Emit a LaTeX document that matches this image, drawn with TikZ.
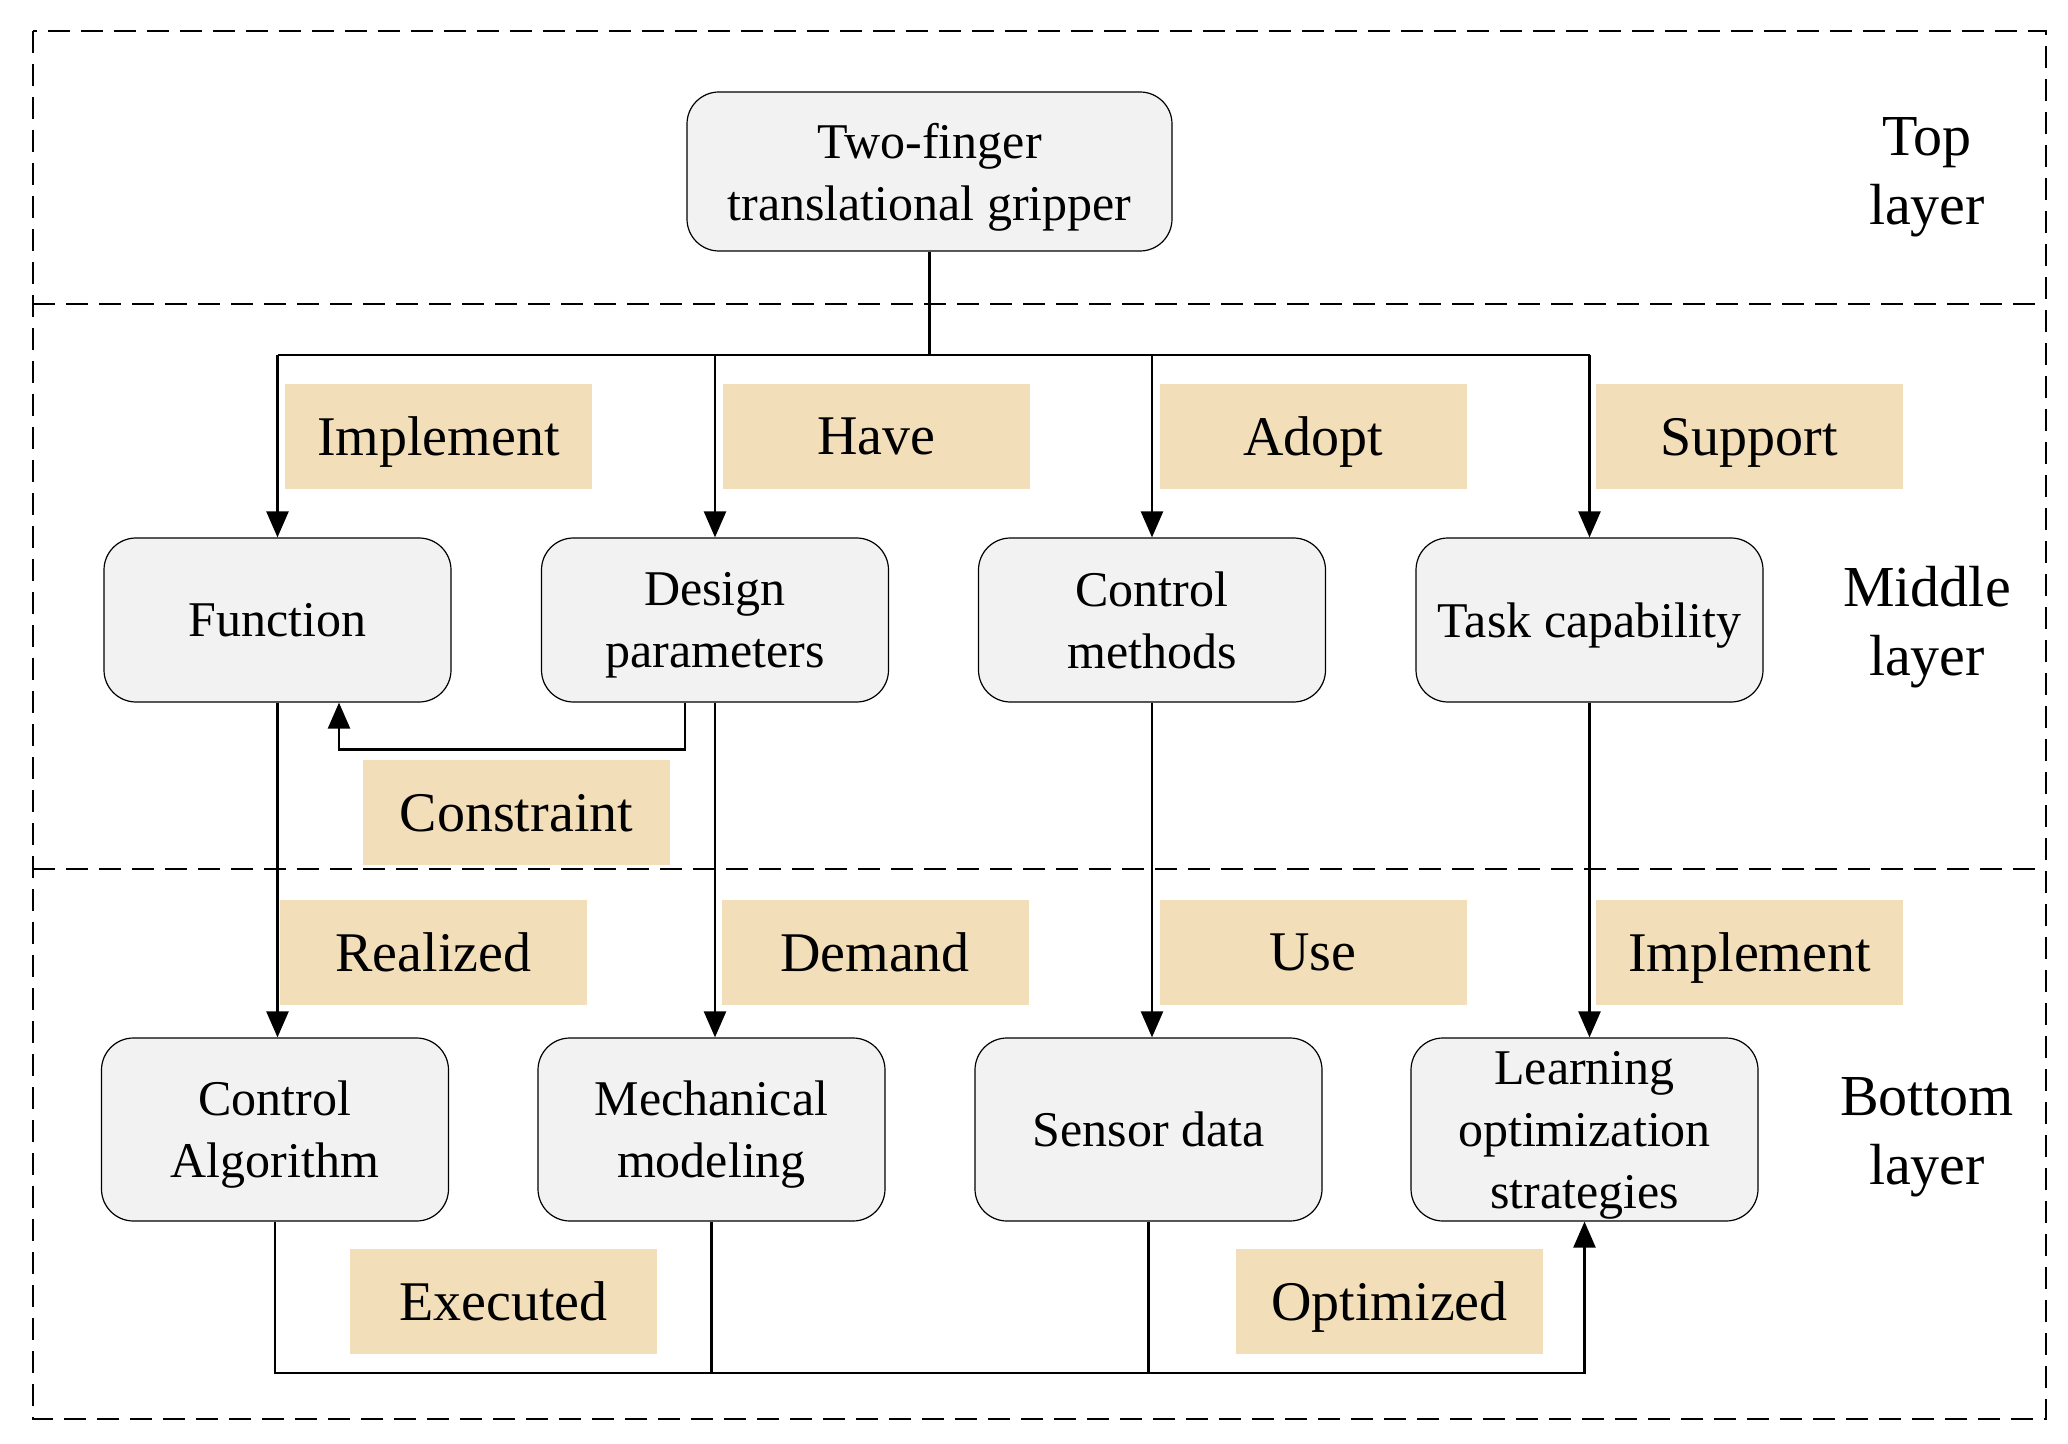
\documentclass[tikz,border=0pt]{standalone}
\usepackage{fontspec}
\setmainfont{Liberation Serif}
\usetikzlibrary{arrows.meta,calc}
\definecolor{boxgray}{RGB}{242,242,242}
\definecolor{tan}{RGB}{242,223,185}
\tikzset{
  blk/.style={draw=black, line width=0.6pt, fill=boxgray, rounded corners=16pt,
    minimum width=173.5pt, minimum height=82pt, align=center, inner sep=2pt,
    text depth=0pt, font=\fontsize{25pt}{31pt}\selectfont},
  lbl/.style={fill=tan, minimum width=153.5pt, minimum height=52.5pt, inner sep=0pt,
    text depth=0pt, font=\fontsize{28pt}{34pt}\selectfont},
  lay/.style={align=center, text depth=0pt, font=\fontsize{29pt}{34.5pt}\selectfont},
  ln/.style={line width=1.2pt},
  arr/.style={line width=1.2pt, -{Triangle[length=13pt,width=11pt]}},
  sep/.style={line width=0.9pt, dash pattern=on 11pt off 5.5pt},
}
\begin{document}
\begin{tikzpicture}[x=0.5pt,y=-0.5pt]
\useasboundingbox (0,0) rectangle (2068,1444);
% layer frames
\draw[sep] (33,31) rectangle (2046,1419);
\draw[sep] (33,304) -- (2046,304);
\draw[sep] (33,869) -- (2046,869);
% nodes
\node[blk, minimum width=242.5pt, minimum height=79.5pt] (top) at (929.5,171.5) {Two-finger\\translational gripper};
\node[blk] (fun) at (277.5,620) {Function};
\node[blk] (des) at (715,620) {Design\\parameters};
\node[blk] (ctl) at (1152,620) {Control\\methods};
\node[blk] (tas) at (1589.5,620) {Task capability};
\node[blk, minimum height=91.5pt] (alg) at (275,1129.5) {Control\\Algorithm};
\node[blk, minimum height=91.5pt] (mec) at (711.5,1129.5) {Mechanical\\modeling};
\node[blk, minimum height=91.5pt] (sen) at (1148.5,1129.5) {Sensor data};
\node[blk, minimum height=91.5pt] (lrn) at (1584.5,1129.5) {Learning\\optimization\\strategies};
% labels
\node[lbl] (l1) at (438.5,436.5) {Implement};
\node[lbl] (l2) at (876.5,436.5) {Have};
\node[lbl] (l3) at (1313,436.5) {Adopt};
\node[lbl] (l4) at (1749.5,436.5) {Support};
\node[lbl] (l5) at (516.5,812.5) {Constraint};
\node[lbl] (l6) at (433.5,952.5) {Realized};
\node[lbl] (l7) at (875,952.5) {Demand};
\node[lbl] (l8) at (1313,952.5) {Use};
\node[lbl] (l9) at (1749.5,952.5) {Implement};
\node[lbl] (l10) at (503.5,1301.5) {Executed};
\node[lbl] (l11) at (1389.5,1301.5) {Optimized};
% layer names
\node[lay] (ly1) at (1927,171) {Top\\layer};
\node[lay] (ly2) at (1927,621) {Middle\\layer};
\node[lay] (ly3) at (1927,1131) {Bottom\\layer};
% top bus
\coordinate (bus) at (929.5,355);
\draw[ln] (top.south) -- (bus);
\draw[ln] (bus -| fun.north) -- (bus -| tas.north);
\draw[arr] (bus -| fun.north) -- (fun.north);
\draw[arr] (bus -| des.north) -- (des.north);
\draw[arr] (bus -| ctl.north) -- (ctl.north);
\draw[arr] (bus -| tas.north) -- (tas.north);
% constraint
\draw[arr] ([xshift=-15pt]des.south) -- ++(0,47) -| ([xshift=30.75pt]fun.south);
% middle to bottom
\draw[arr] (fun.south) -- (fun.south |- alg.north);
\draw[arr] (des.south) -- (des.south |- mec.north);
\draw[arr] (ctl.south) -- (ctl.south |- sen.north);
\draw[arr] (tas.south) -- (tas.south |- lrn.north);
% bottom bus
\coordinate (bbus) at (929.5,1373);
\draw[ln] (mec.south) -- (mec.south |- bbus);
\draw[ln] (sen.south) -- (sen.south |- bbus);
\draw[arr] (alg.south) -- (alg.south |- bbus) -| (lrn.south);
\end{tikzpicture}
\end{document}
